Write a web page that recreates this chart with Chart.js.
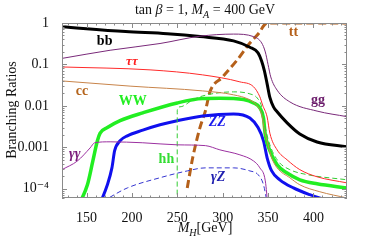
<!DOCTYPE html>
<html lang="en">
<head>
<meta charset="UTF-8" />
<title>Branching Ratios, tan beta = 1</title>
<script src="https://cdn.jsdelivr.net/npm/chart.js"></script>
<style>
  html, body { margin: 0; padding: 0; background: #fff; }
  #wrap { width: 374px; height: 241px; }
</style>
</head>
<body>
<div id="wrap"><canvas id="brChart" width="374" height="241"></canvas></div>
<script>
  // Higgs mass (GeV) and branching ratio for each decay channel
  const bbMass = [123, 193, 239, 275, 312, 330, 339, 343, 346, 349, 352, 356, 360, 371, 385, 404, 437];
  const bbBR = [0.81, 0.62, 0.55, 0.47, 0.37, 0.26, 0.19, 0.12, 0.07, 0.034, 0.016, 0.0095, 0.0072, 0.0039, 0.0021, 0.00135, 0.00103];

  const ggMass = [123, 176, 231, 275, 312, 334, 343, 347, 350, 353, 360, 374, 404, 437];
  const ggBR = [0.14, 0.22, 0.32, 0.48, 0.54, 0.47, 0.33, 0.2, 0.10, 0.05, 0.024, 0.0125, 0.0075, 0.0055];

  const tautauMass = [123, 220, 278, 319, 334, 341, 344, 349, 352, 360, 371, 385, 404, 437];
  const tautauBR = [0.087, 0.074, 0.056, 0.038, 0.029, 0.0165, 0.0105, 0.0054, 0.0022, 0.00087, 0.0005, 0.00029, 0.000195, 0.000139];

  const ccMass = [123, 198, 278, 312, 330, 339, 343, 346, 350, 354, 360, 374, 385, 407, 437];
  const ccBR = [0.040, 0.030, 0.023, 0.0185, 0.0139, 0.0095, 0.0061, 0.0026, 0.00115, 0.00056, 0.00032, 0.000185, 0.000125, 0.000085, 0.00006];

  const wwMass = [140, 151, 157, 162, 165, 173, 187, 212, 250, 278, 297, 323, 334, 341, 345, 347, 352, 360, 371, 385, 404, 437];
  const wwBR = [0.000035, 0.000125, 0.00047, 0.00144, 0.0022, 0.0030, 0.0044, 0.0068, 0.0118, 0.0150, 0.0152, 0.0142, 0.0118, 0.0090, 0.0051, 0.0020, 0.00083, 0.00038, 0.00024, 0.000165, 0.000132, 0.000105];

  const hhMass = [249.9, 250, 253, 267, 278, 312, 330, 338, 343, 347, 352, 361, 374, 393, 437];
  const hhBR = [0.00003, 0.0080, 0.0095, 0.0139, 0.0174, 0.0218, 0.0195, 0.0156, 0.0095, 0.0030, 0.00115, 0.00047, 0.00029, 0.00022, 0.000165];

  const zzMass = [163, 173, 178, 181, 187, 195, 212, 231, 250, 278, 312, 330, 339, 345, 349, 354, 363, 378, 396, 412];
  const zzBR = [0.000035, 0.000125, 0.00032, 0.00083, 0.00144, 0.0019, 0.0026, 0.0035, 0.0044, 0.0057, 0.0064, 0.0051, 0.0030, 0.00144, 0.00056, 0.00027, 0.000165, 0.000105, 0.000072, 0.000055];

  const gamgamMass = [123, 140, 154, 159, 176, 212, 250, 281, 297, 319, 334, 341, 347, 350];
  const gamgamBR = [0.00029, 0.00047, 0.00097, 0.00129, 0.00136, 0.00129, 0.00115, 0.0011, 0.00087, 0.00066, 0.00047, 0.00032, 0.000155, 0.000035];

  const gamZMass = [168, 195, 231, 261, 281, 312, 330, 339, 345, 350];
  const gamZBR = [0.00005, 0.000105, 0.000185, 0.00027, 0.00032, 0.00032, 0.00027, 0.00022, 0.000125, 0.000035];

  const ttMass = [261, 267, 275, 281, 286, 300, 316, 330, 341, 345, 350, 437];
  const ttBR = [0.000105, 0.00056, 0.0030, 0.0076, 0.0218, 0.050, 0.128, 0.33, 0.61, 0.85, 1.0, 1.0];

  const xTicks = [150, 200, 250, 300, 350, 400];
  const yTicks = [1, 0.1, 0.01, 0.001, 0.0001];
  const yTickLabels = ['1', '0.1', '0.01', '0.001', '10\u207B\u2074'];

  function pts(xs, ys) {
    return xs.map((x, i) => ({ x: x, y: ys[i] }));
  }

  function line(label, xs, ys, color, width, dash) {
    return {
      label: label,
      data: pts(xs, ys),
      borderColor: color,
      borderWidth: width,
      borderDash: dash || [],
      pointRadius: 0,
      fill: false,
      cubicInterpolationMode: 'monotone'
    };
  }

  // curve labels, placed in data coordinates
  const curveLabels = [
    { text: 'bb', m: 170, br: 0.36, color: '#000000', font: 'bold 14px "Liberation Serif"' },
    { text: '\u03C4\u03C4', m: 200, br: 0.115, color: '#ff2020', font: 'italic bold 13px "Liberation Serif"' },
    { text: 'cc', m: 145, br: 0.023, color: '#b5651d', font: 'bold 14px "Liberation Serif"' },
    { text: 'WW', m: 201, br: 0.0125, color: '#22ee22', font: 'bold 14px "Liberation Serif"' },
    { text: 'ZZ', m: 294, br: 0.0039, color: '#1a1aee', font: 'italic bold 14px "Liberation Serif"' },
    { text: 'hh', m: 238, br: 0.0005, color: '#33dd33', font: 'bold 14px "Liberation Serif"' },
    { text: '\u03B3Z', m: 295, br: 0.000185, color: '#2020b0', font: 'italic bold 14px "Liberation Serif"' },
    { text: '\u03B3\u03B3', m: 137, br: 0.00066, color: '#7a1a7a', font: 'italic bold 14px "Liberation Serif"' },
    { text: 'gg', m: 405, br: 0.0139, color: '#6a1a6a', font: 'bold 14px "Liberation Serif"' },
    { text: 'tt', m: 378, br: 0.60, color: '#b5601a', font: 'bold 14px "Liberation Serif"' }
  ];

  const serif = '"Liberation Serif", "DejaVu Serif", serif';

  // draw text made of pieces (italic, subscript) centred on cx
  function drawRich(ctx, parts, cx, cy, size) {
    let total = 0;
    const widths = parts.map(p => {
      const s = p.sub ? size * 0.72 : size;
      ctx.font = (p.italic ? 'italic ' : '') + s + 'px ' + serif;
      const w = ctx.measureText(p.t).width;
      total += w;
      return w;
    });
    let x = cx - total / 2;
    ctx.textBaseline = 'alphabetic';
    ctx.textAlign = 'left';
    parts.forEach((p, i) => {
      const s = p.sub ? size * 0.72 : size;
      ctx.font = (p.italic ? 'italic ' : '') + s + 'px ' + serif;
      ctx.fillText(p.t, x, cy + (p.sub ? size * 0.25 : 0));
      x += widths[i];
    });
  }

  const framePlugin = {
    id: 'framePlugin',
    afterDatasetsDraw(chart) {
      const ctx = chart.ctx;
      const xs = chart.scales.x, ys = chart.scales.y;
      ctx.save();
      curveLabels.forEach(l => {
        ctx.font = l.font;
        ctx.fillStyle = l.color;
        ctx.textAlign = 'center';
        ctx.textBaseline = 'middle';
        ctx.fillText(l.text, xs.getPixelForValue(l.m), ys.getPixelForValue(l.br));
      });
      ctx.restore();
    },
    afterDraw(chart) {
      const ctx = chart.ctx;
      const a = chart.chartArea;
      const xs = chart.scales.x, ys = chart.scales.y;
      ctx.save();
      ctx.strokeStyle = '#8a8a8a';
      ctx.lineWidth = 1;
      ctx.strokeRect(a.left + 0.5, a.top + 0.5, a.right - a.left - 1, a.bottom - a.top - 1);

      ctx.strokeStyle = '#8a8a8a';
      ctx.beginPath();
      for (let m = 130; m <= 430; m += 10) {
        const px = Math.round(xs.getPixelForValue(m)) + 0.5;
        const len = m % 50 === 0 ? 5 : 2.5;
        ctx.moveTo(px, a.bottom); ctx.lineTo(px, a.bottom - len);
        ctx.moveTo(px, a.top); ctx.lineTo(px, a.top + len);
      }
      for (let e = -5; e <= 0; e++) {
        for (let k = 1; k <= 9; k++) {
          const v = k * Math.pow(10, e);
          if (v < ys.min || v > ys.max) continue;
          const py = Math.round(ys.getPixelForValue(v)) + 0.5;
          const len = k === 1 ? 5 : 2.5;
          ctx.moveTo(a.left, py); ctx.lineTo(a.left + len, py);
          ctx.moveTo(a.right, py); ctx.lineTo(a.right - len, py);
        }
      }
      ctx.stroke();

      ctx.fillStyle = '#111';
      drawRich(ctx, [
        { t: 'tan ' }, { t: '\u03B2', italic: true }, { t: ' = 1, ' },
        { t: 'M', italic: true }, { t: 'A', italic: true, sub: true }, { t: ' = 400 GeV' }
      ], 205, 14, 14);
      drawRich(ctx, [
        { t: 'M', italic: true }, { t: 'H', italic: true, sub: true }, { t: '[GeV]' }
      ], 205, 232, 14);

      ctx.translate(16, 110);
      ctx.rotate(-Math.PI / 2);
      drawRich(ctx, [{ t: 'Branching Ratios' }], 0, 0, 14);
      ctx.restore();
    }
  };

  new Chart(document.getElementById('brChart'), {
    type: 'line',
    data: {
      datasets: [
        line('γγ', gamgamMass, gamgamBR, '#9b30a0', 1),
        line('γZ', gamZMass, gamZBR, '#3535d0', 1, [5, 3]),
        line('gg', ggMass, ggBR, '#7a2a7a', 1),
        line('ττ', tautauMass, tautauBR, '#ff2a2a', 1),
        line('cc', ccMass, ccBR, '#c8844a', 1),
        line('hh', hhMass, hhBR, '#33cc33', 1, [5, 3]),
        line('WW', wwMass, wwBR, '#22ee22', 3.5),
        line('ZZ', zzMass, zzBR, '#1010ee', 3),
        line('bb', bbMass, bbBR, '#000000', 3),
        line('tt', ttMass, ttBR, '#b5601a', 3, [8, 4])
      ]
    },
    options: {
      responsive: false,
      animation: false,
      devicePixelRatio: 1,
      layout: { padding: { top: 23, right: 27, left: 0, bottom: 0 } },
      plugins: {
        legend: { display: false },
        tooltip: { enabled: false }
      },
      scales: {
        x: {
          type: 'linear',
          min: 123,
          max: 437,
          grid: { display: false },
          border: { display: false },
          afterBuildTicks: s => { s.ticks = xTicks.map(v => ({ value: v })); },
          afterFit: s => { s.height = 43; },
          ticks: {
            padding: 4,
            color: '#111',
            font: { family: serif, size: 14 },
            maxRotation: 0
          }
        },
        y: {
          type: 'logarithmic',
          min: 0.00006,
          max: 1,
          grid: { display: false },
          border: { display: false },
          afterBuildTicks: s => { s.ticks = yTicks.map(v => ({ value: v })); },
          afterFit: s => { s.width = 62; },
          ticks: {
            padding: 5,
            color: '#111',
            font: { family: serif, size: 14 },
            callback: v => {
              const i = yTicks.findIndex(t => Math.abs(t - v) / t < 1e-6);
              return i >= 0 ? yTickLabels[i] : '';
            }
          }
        }
      }
    },
    plugins: [framePlugin]
  });
</script>
</body>
</html>
